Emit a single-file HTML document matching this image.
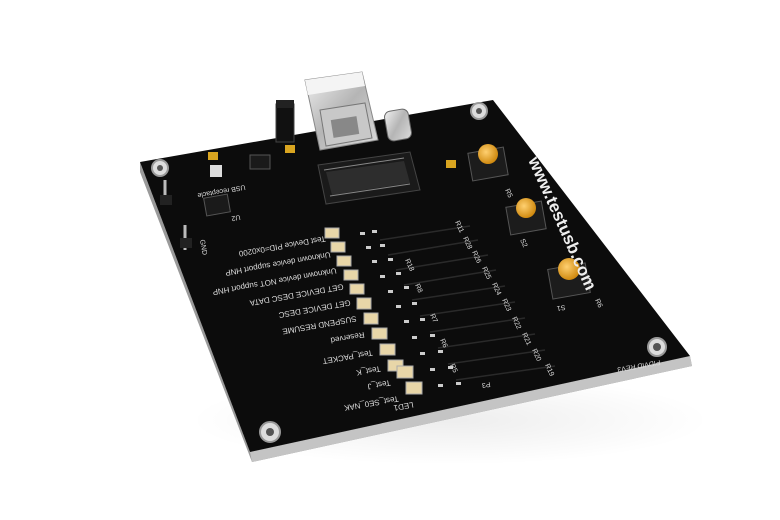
<!DOCTYPE html>
<html><head><meta charset="utf-8"><style>
html,body{margin:0;padding:0;background:#fff;}
svg{display:block;font-family:"Liberation Sans",sans-serif;}
</style></head><body>
<svg width="780" height="520" viewBox="0 0 780 520" xmlns="http://www.w3.org/2000/svg">
<defs>
<linearGradient id="met" x1="0" y1="0" x2="1" y2="1">
<stop offset="0" stop-color="#f2f2f2"/><stop offset="0.5" stop-color="#b5b5b5"/><stop offset="1" stop-color="#dcdcdc"/></linearGradient>
<radialGradient id="btn" cx="0.4" cy="0.4" r="0.6"><stop offset="0" stop-color="#ffd070"/><stop offset="1" stop-color="#d08a10"/></radialGradient>
<radialGradient id="shadow" cx="0.5" cy="0.5" r="0.5"><stop offset="0" stop-color="#000" stop-opacity="0.07"/><stop offset="1" stop-color="#000" stop-opacity="0"/></radialGradient>
</defs>
<rect width="780" height="520" fill="#fff"/>
<ellipse cx="450" cy="420" rx="260" ry="45" fill="url(#shadow)"/>
<!-- board edge -->
<polygon points="140,162 250,452 690,356 692,366 252,462 140,172" fill="#9a9a9a"/>
<polygon points="250,452 690,356 692,366 252,462" fill="#c4c4c4"/>
<!-- board top -->
<polygon points="140,162 493,100 690,356 250,452" fill="#0c0c0c"/>
<!-- mounting holes -->
<g fill="#ddd" stroke="#999" stroke-width="2">
<circle cx="160" cy="168" r="8"/><circle cx="479" cy="111" r="8"/><circle cx="657" cy="347" r="9"/><circle cx="270" cy="432" r="10"/></g>
<g fill="#555"><circle cx="160" cy="168" r="3"/><circle cx="479" cy="111" r="3"/><circle cx="657" cy="347" r="4"/><circle cx="270" cy="432" r="4"/></g>
<!-- USB connector -->
<polygon points="305,80 362,72 378,140 320,150" fill="url(#met)" stroke="#888"/>
<polygon points="305,80 362,72 365,86 308,95" fill="#f4f4f4"/>
<polygon points="320,110 365,103 372,138 326,146" fill="#c8c8c8" stroke="#777"/>
<rect x="332" y="118" width="26" height="18" fill="#888" transform="rotate(-9 345 127)"/>
<!-- jumper -->
<rect x="276" y="104" width="18" height="38" fill="#111" stroke="#444"/>
<rect x="276" y="100" width="18" height="8" fill="#222"/>
<!-- crystal -->
<rect x="386" y="110" width="24" height="30" rx="6" fill="url(#met)" stroke="#666" transform="rotate(-10 398 125)"/>
<!-- big chip / connector -->
<polygon points="318,165 410,152 420,190 326,204" fill="#1a1a1a" stroke="#444"/>
<polygon points="326,172 404,161 410,183 332,195" fill="#2d2d2d"/>
<g stroke="#888" stroke-width="1">
<line x1="330" y1="196" x2="410" y2="184"/><line x1="324" y1="170" x2="404" y2="158"/></g>
<!-- small ICs -->
<rect x="205" y="196" width="24" height="18" fill="#1a1a1a" stroke="#555" transform="rotate(-10 217 205)"/>
<rect x="250" y="155" width="20" height="14" fill="#1a1a1a" stroke="#555"/>
<rect x="210" y="165" width="12" height="12" fill="#ddd"/>
<rect x="208" y="152" width="10" height="8" fill="#d9a520"/>
<rect x="285" y="145" width="10" height="8" fill="#d9a520"/>
<rect x="446" y="160" width="10" height="8" fill="#d9a520"/>
<!-- header pins -->
<g stroke="#bbb" stroke-width="3"><line x1="165" y1="180" x2="165" y2="205"/><line x1="185" y1="225" x2="185" y2="250"/></g>
<rect x="160" y="195" width="12" height="10" fill="#222"/>
<rect x="180" y="238" width="12" height="10" fill="#222"/>
<!-- buttons -->
<g>
<rect x="470" y="150" width="36" height="28" fill="#1c1c1c" stroke="#555" transform="rotate(-10 488 164)"/>
<circle cx="488" cy="154" r="10" fill="url(#btn)"/>
<rect x="508" y="204" width="36" height="28" fill="#1c1c1c" stroke="#555" transform="rotate(-10 526 218)"/>
<circle cx="526" cy="208" r="10" fill="url(#btn)"/>
<rect x="550" y="266" width="38" height="30" fill="#1c1c1c" stroke="#555" transform="rotate(-10 569 281)"/>
<circle cx="569" cy="269" r="11" fill="url(#btn)"/>
</g>
<!-- LEDs and resistors -->
<g id="leds">
<g fill="#e8d6a8" stroke="#aaa">
<rect x="325" y="228" width="14" height="10"/><rect x="331" y="242" width="14" height="10"/>
<rect x="337" y="256" width="14" height="10"/><rect x="344" y="270" width="14" height="10"/>
<rect x="350" y="284" width="14" height="10"/><rect x="357" y="298" width="14" height="11"/>
<rect x="364" y="313" width="14" height="11"/><rect x="372" y="328" width="15" height="11"/>
<rect x="380" y="344" width="15" height="11"/><rect x="388" y="360" width="15" height="11"/>
<rect x="397" y="366" width="16" height="12"/><rect x="406" y="382" width="16" height="12"/>
</g>
<g fill="#ccc">
<rect x="360" y="232" width="5" height="3"/><rect x="372" y="230" width="5" height="3"/>
<rect x="366" y="246" width="5" height="3"/><rect x="380" y="244" width="5" height="3"/>
<rect x="372" y="260" width="5" height="3"/><rect x="388" y="258" width="5" height="3"/>
<rect x="380" y="275" width="5" height="3"/><rect x="396" y="272" width="5" height="3"/>
<rect x="388" y="290" width="5" height="3"/><rect x="404" y="286" width="5" height="3"/>
<rect x="396" y="305" width="5" height="3"/><rect x="412" y="302" width="5" height="3"/>
<rect x="404" y="320" width="5" height="3"/><rect x="420" y="318" width="5" height="3"/>
<rect x="412" y="336" width="5" height="3"/><rect x="430" y="334" width="5" height="3"/>
<rect x="420" y="352" width="5" height="3"/><rect x="438" y="350" width="5" height="3"/>
<rect x="430" y="368" width="5" height="3"/><rect x="448" y="366" width="5" height="3"/>
<rect x="438" y="384" width="5" height="3"/><rect x="456" y="382" width="5" height="3"/>
</g>
<g stroke="#2a2a2a" stroke-width="1.5">
<line x1="380" y1="240" x2="470" y2="226"/><line x1="388" y1="255" x2="478" y2="240"/>
<line x1="396" y1="270" x2="488" y2="255"/><line x1="404" y1="285" x2="496" y2="270"/>
<line x1="412" y1="300" x2="505" y2="286"/><line x1="420" y1="316" x2="515" y2="302"/>
<line x1="430" y1="332" x2="525" y2="318"/><line x1="438" y1="348" x2="535" y2="334"/>
<line x1="448" y1="364" x2="545" y2="350"/><line x1="456" y1="380" x2="555" y2="366"/>
</g>
</g>
<!-- silkscreen text -->
<g fill="#ddd" font-size="8">
<text transform="translate(325,236) rotate(170)">Test Device PID=0x0200</text>
<text transform="translate(330,252) rotate(170)">Unknown device support HNP</text>
<text transform="translate(336,268) rotate(170)">Unknown device NOT support HNP</text>
<text transform="translate(343,284) rotate(170)">GET DEVICE DESC DATA</text>
<text transform="translate(350,300) rotate(170)">GET DEVICE DESC</text>
<text transform="translate(356,316) rotate(170)">SUSPEND RESUME</text>
<text transform="translate(364,332) rotate(170)">Reserved</text>
<text transform="translate(372,350) rotate(170)">Test_PACKET</text>
<text transform="translate(380,366) rotate(170)">Test_K</text>
<text transform="translate(390,380) rotate(170)">Test_J</text>
<text transform="translate(398,396) rotate(170)">Test_SE0_NAK</text>
<text transform="translate(413,402) rotate(170)">LED1</text>
<text transform="translate(245,185) rotate(170)" font-size="7">USB receptacle</text>
<text transform="translate(200,240) rotate(80)" font-size="7">GND</text>
<text transform="translate(240,215) rotate(170)" font-size="7">U2</text>
<text transform="translate(490,382) rotate(170)" font-size="7">P3</text>
<text transform="translate(660,360) rotate(170)" font-size="7">PIDVID REV3</text>
</g>
<g fill="#ddd" font-size="7">
<text transform="translate(455,222) rotate(65)">R11</text>
<text transform="translate(463,238) rotate(65)">R28</text>
<text transform="translate(472,252) rotate(65)">R26</text>
<text transform="translate(482,268) rotate(65)">R25</text>
<text transform="translate(492,284) rotate(65)">R24</text>
<text transform="translate(502,300) rotate(65)">R23</text>
<text transform="translate(512,318) rotate(65)">R22</text>
<text transform="translate(522,334) rotate(65)">R21</text>
<text transform="translate(532,350) rotate(65)">R20</text>
<text transform="translate(545,365) rotate(65)">R19</text>
<text transform="translate(405,260) rotate(65)">R18</text>
<text transform="translate(415,285) rotate(65)">R8</text>
<text transform="translate(430,315) rotate(65)">R7</text>
<text transform="translate(440,340) rotate(65)">R6</text>
<text transform="translate(450,365) rotate(65)">R5</text>
<text transform="translate(505,190) rotate(65)">R5</text>
<text transform="translate(520,240) rotate(65)">S2</text>
<text transform="translate(595,300) rotate(65)">R6</text>
<text transform="translate(565,305) rotate(170)">S1</text>
</g>
<text transform="translate(528,160) rotate(66)" fill="#eee" font-size="17" font-weight="bold">www.testusb.com</text>
</svg>
</body></html>
